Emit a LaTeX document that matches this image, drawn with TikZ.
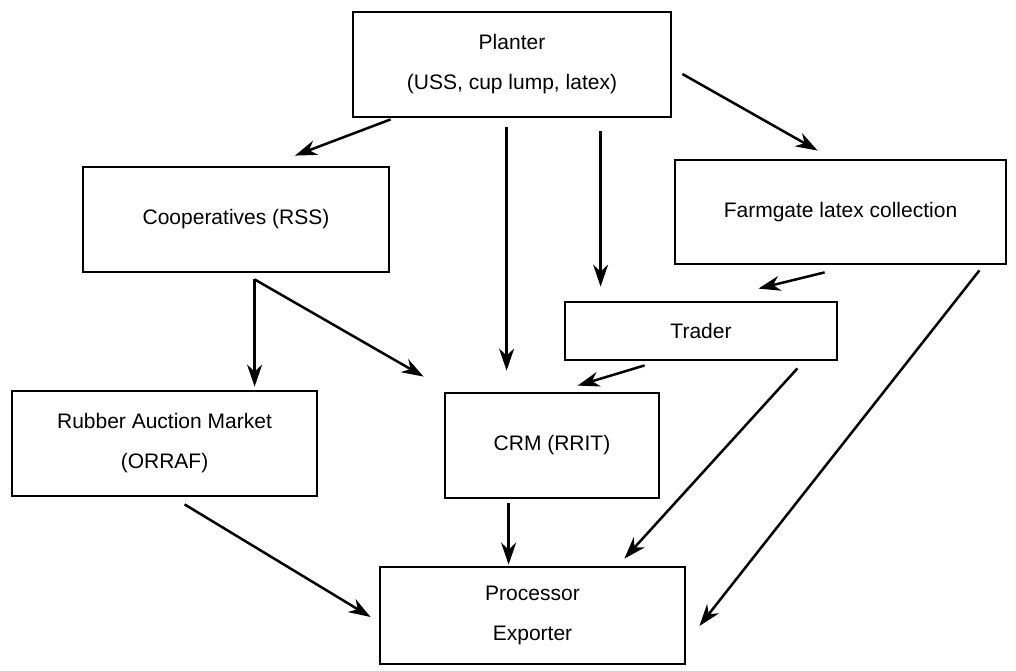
\documentclass[tikz,border=0pt]{standalone}
\usepackage{fontspec}
\setmainfont{Liberation Sans}
\usetikzlibrary{arrows.meta,calc}
\begin{document}
\begin{tikzpicture}[x=1pt,y=-1pt,
  box/.style={draw,line width=2.8pt,rectangle,inner sep=0pt,align=center,
    font=\fontsize{21}{40}\selectfont},
  arr/.style={line width=2.5pt,-{Stealth[length=22pt,width=15pt,inset=7pt]}},
  seg/.style={line width=2.5pt}]
\useasboundingbox (0,0) rectangle (1016,671);
\node[box,minimum width=318pt,minimum height=105pt] (planter) at (512,64.5) {Planter\\(USS, cup lump, latex)};
\node[box,minimum width=306pt,minimum height=105pt] (coop) at (236,219.5) {Cooperatives (RSS)};
\node[box,minimum width=331pt,minimum height=104pt] (farm) at (840.5,212) {Farmgate latex collection};
\node[box,minimum width=272pt,minimum height=58pt] (trader) at (701,331) {Trader};
\node[box,minimum width=305pt,minimum height=105pt] (ram) at (164.5,443.5) {Rubber Auction Market\\(ORRAF)};
\node[box,minimum width=214pt,minimum height=105pt] (crm) at (552,445.5) {CRM (RRIT)};
\node[box,minimum width=305pt,minimum height=97pt] (proc) at (532.5,615.5) {Processor\\Exporter};
% connectors
\draw[arr] ($(planter.south west)+(39,1)$) -- ($(coop.north)+(59,-10)$);
\draw[arr] ($(planter.south west)+(155,9)$) -- ($(crm.north west)+(63,-21)$);
\draw[arr] ($(planter.south west)+(249,13)$) -- ($(trader.north west)+(37,-14)$);
\draw[arr] ($(planter.east)+(10,9.5)$) -- ($(farm.north west)+(144,-8)$);
\coordinate (split) at ($(coop.south west)+(173,6)$);
\draw[arr] (split) -- ($(ram.north west)+(244,-3)$);
\draw[arr] (split) -- ($(crm.north west)+(-20,-15)$);
\draw[arr] ($(farm.south west)+(151,7)$) -- ($(trader.north east)+(-80,-12)$);
\draw[arr] ($(trader.south west)+(81,4)$) -- ($(crm.north west)+(134,-6)$);
\draw[arr] ($(trader.south east)+(-41,7)$) -- ($(proc.north east)+(-62,-7)$);
\draw[arr] ($(farm.south east)+(-28,5)$) -- ($(proc.east)+(13,10.5)$);
\draw[arr] ($(crm.south west)+(65,4)$) -- ($(proc.north west)+(130,-1)$);
\draw[arr] ($(ram.south west)+(174,7)$) -- ($(proc.west)+(-8,1.5)$);
\end{tikzpicture}
\end{document}
